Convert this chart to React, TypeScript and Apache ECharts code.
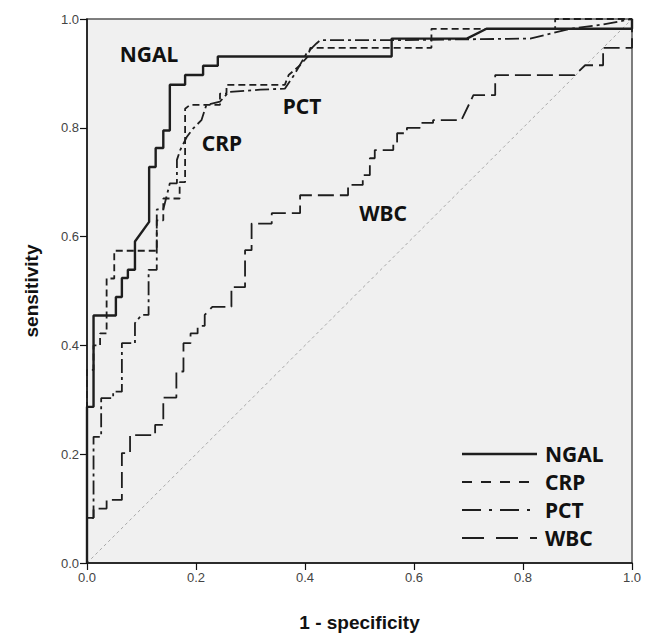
import React, { useEffect, useRef } from "react";
import * as echarts from "echarts";

const xTicks = [0, 0.2, 0.4, 0.6, 0.8, 1.0];
const seriesNames = ["NGAL", "CRP", "PCT", "WBC"];

const ngalPoints = [
  [0, 0], [0, 0.287], [0.012, 0.287], [0.012, 0.455], [0.053, 0.455], [0.053, 0.489],
  [0.064, 0.489], [0.064, 0.524], [0.075, 0.524], [0.075, 0.539], [0.088, 0.539],
  [0.088, 0.591], [0.114, 0.627], [0.114, 0.728], [0.126, 0.728], [0.126, 0.763],
  [0.14, 0.763], [0.14, 0.795], [0.152, 0.795], [0.152, 0.879], [0.18, 0.879],
  [0.18, 0.897], [0.213, 0.897], [0.213, 0.914], [0.24, 0.914], [0.24, 0.931],
  [0.559, 0.931], [0.559, 0.964], [0.697, 0.964], [0.733, 0.982], [1, 0.982], [1, 1],
];

const crpPoints = [
  [0, 0], [0, 0.355], [0.012, 0.355], [0.012, 0.4], [0.024, 0.4], [0.024, 0.422],
  [0.036, 0.422], [0.036, 0.523], [0.05, 0.523], [0.05, 0.574], [0.128, 0.574],
  [0.128, 0.63], [0.14, 0.63], [0.14, 0.67], [0.17, 0.67], [0.17, 0.7], [0.18, 0.7],
  [0.18, 0.835], [0.189, 0.842], [0.244, 0.842], [0.244, 0.863], [0.256, 0.863],
  [0.256, 0.879], [0.363, 0.879], [0.37, 0.897], [0.39, 0.914], [0.405, 0.931],
  [0.41, 0.947], [0.632, 0.947], [0.632, 0.982], [0.859, 0.982], [0.859, 1], [1, 1],
];

const pctPoints = [
  [0, 0], [0, 0.083], [0.012, 0.083], [0.012, 0.232], [0.026, 0.232], [0.026, 0.303],
  [0.048, 0.303], [0.048, 0.315], [0.064, 0.315], [0.064, 0.404], [0.088, 0.404],
  [0.088, 0.441], [0.1, 0.456], [0.113, 0.456], [0.113, 0.539], [0.128, 0.539],
  [0.128, 0.65], [0.14, 0.65], [0.152, 0.698], [0.165, 0.698], [0.165, 0.741],
  [0.171, 0.759], [0.183, 0.783], [0.195, 0.799], [0.21, 0.814], [0.219, 0.842],
  [0.244, 0.848], [0.26, 0.866], [0.318, 0.87], [0.363, 0.872], [0.38, 0.897],
  [0.403, 0.937], [0.421, 0.955], [0.428, 0.961], [0.556, 0.961], [0.813, 0.964],
  [0.886, 0.982], [0.947, 0.99], [1, 1],
];

const wbcPoints = [
  [0, 0], [0, 0.083], [0.012, 0.083], [0.012, 0.1], [0.036, 0.1], [0.036, 0.116],
  [0.064, 0.116], [0.064, 0.202], [0.079, 0.202], [0.079, 0.235], [0.125, 0.235],
  [0.125, 0.254], [0.14, 0.254], [0.14, 0.304], [0.164, 0.304], [0.164, 0.352],
  [0.177, 0.352], [0.177, 0.404], [0.19, 0.404], [0.19, 0.422], [0.203, 0.422],
  [0.203, 0.436], [0.216, 0.436], [0.216, 0.456], [0.23, 0.471], [0.265, 0.471],
  [0.265, 0.507], [0.29, 0.507], [0.29, 0.575], [0.302, 0.575], [0.302, 0.624],
  [0.339, 0.624], [0.339, 0.643], [0.391, 0.643], [0.391, 0.676], [0.479, 0.676],
  [0.479, 0.695], [0.506, 0.695], [0.506, 0.713], [0.519, 0.713], [0.519, 0.744],
  [0.528, 0.744], [0.528, 0.759], [0.562, 0.759], [0.562, 0.774], [0.569, 0.774],
  [0.569, 0.79], [0.587, 0.79], [0.587, 0.8], [0.611, 0.8], [0.611, 0.809],
  [0.635, 0.809], [0.635, 0.814], [0.687, 0.814], [0.709, 0.86], [0.749, 0.86],
  [0.749, 0.897], [0.895, 0.897], [0.914, 0.915], [0.947, 0.915], [0.947, 0.947],
  [1, 0.947], [1, 1],
];

const referencePoints = [[0, 0], [1, 1]];

const LINE = "#1e1e1e";
const dashes: Record<string, any> = {
  NGAL: "solid",
  CRP: [7, 4],
  PCT: [14, 4, 3, 4],
  WBC: [16, 6],
};
const legendDashes: Record<string, any> = {
  NGAL: null,
  CRP: [10, 9],
  PCT: [19, 8, 3, 8],
  WBC: [22, 12],
};

export default function App() {
  const ref = useRef<HTMLDivElement>(null);
  useEffect(() => {
    if (!ref.current) return;
    document.body.style.margin = "0";
    const chart = echarts.init(ref.current, null, { renderer: "svg" });
    const pointsByName: Record<string, number[][]> = {
      NGAL: ngalPoints,
      CRP: crpPoints,
      PCT: pctPoints,
      WBC: wbcPoints,
    };
    const fontTitle = "'Liberation Sans', Arial, sans-serif";
    const fontLabel = "'Noto Sans', sans-serif";
    const legendGraphics: any[] = [];
    seriesNames.forEach((n, i) => {
      const y = 454 + i * 28;
      legendGraphics.push({
        type: "line",
        shape: { x1: 462, y1: y, x2: 537, y2: y },
        style: {
          stroke: LINE,
          lineWidth: n === "NGAL" ? 2.4 : 2,
          lineDash: legendDashes[n] || undefined,
        },
        z: 10,
      });
      legendGraphics.push({
        type: "text",
        x: 545,
        y: y,
        style: {
          text: n,
          font: `bold 21px ${fontLabel}`,
          fill: "#111",
          verticalAlign: "middle",
        },
        z: 10,
      });
    });
    const curveLabels = [
      { t: "NGAL", x: 149, y: 54 },
      { t: "CRP", x: 222, y: 143 },
      { t: "PCT", x: 302, y: 106 },
      { t: "WBC", x: 383, y: 213 },
    ];
    curveLabels.forEach((c) => {
      legendGraphics.push({
        type: "text",
        x: c.x,
        y: c.y,
        style: {
          text: c.t,
          font: `bold 21px ${fontLabel}`,
          fill: "#111",
          align: "center",
          verticalAlign: "middle",
        },
        z: 10,
      });
    });

    chart.setOption({
      animation: false,
      backgroundColor: "#ffffff",
      grid: {
        left: 87,
        top: 19,
        right: 20,
        bottom: 75,
        show: true,
        backgroundColor: "#f0f0f0",
        borderColor: "#555",
        borderWidth: 1.5,
      },
      xAxis: {
        type: "value",
        min: 0,
        max: 1,
        interval: 0.2,
        name: "1 - specificity",
        nameLocation: "middle",
        nameGap: 50,
        nameTextStyle: { fontFamily: fontTitle, fontWeight: "bold", fontSize: 19, color: "#111" },
        axisLine: { show: true, lineStyle: { color: "#111", width: 1.5 } },
        axisTick: { show: true, length: 7, lineStyle: { color: "#111", width: 1.2 } },
        axisLabel: {
          margin: 8,
          fontFamily: fontTitle,
          fontSize: 13,
          color: "#444",
          formatter: (v: number) => (xTicks.includes(Math.round(v * 10) / 10) ? v.toFixed(1) : ""),
        },
        splitLine: { show: false },
      },
      yAxis: {
        type: "value",
        min: 0,
        max: 1,
        interval: 0.2,
        name: "sensitivity",
        nameLocation: "middle",
        nameGap: 46,
        nameRotate: 90,
        nameTextStyle: { fontFamily: fontTitle, fontWeight: "bold", fontSize: 19, color: "#111" },
        axisLine: { show: true, lineStyle: { color: "#111", width: 1.5 } },
        axisTick: { show: true, length: 7, lineStyle: { color: "#111", width: 1.2 } },
        axisLabel: {
          margin: 8,
          fontFamily: fontTitle,
          fontSize: 13,
          color: "#444",
          formatter: (v: number) => v.toFixed(1),
        },
        splitLine: { show: false },
      },
      series: [
        {
          type: "line",
          name: "reference",
          data: referencePoints,
          showSymbol: false,
          silent: true,
          lineStyle: { color: "#a8a8a8", width: 1, type: [3, 3] },
          z: 1,
        },
        ...seriesNames.map((n) => ({
          type: "line",
          name: n,
          data: pointsByName[n],
          showSymbol: false,
          symbol: "none",
          lineStyle: {
            color: LINE,
            width: n === "NGAL" ? 2.4 : 1.8,
            type: dashes[n],
          },
          z: n === "NGAL" ? 5 : 3,
        })),
      ],
      graphic: legendGraphics,
    });
    return () => chart.dispose();
  }, []);
  return (
    <div
      ref={ref}
      style={{ width: 652, height: 638, position: "absolute", left: 0, top: 0 }}
    />
  );
}
